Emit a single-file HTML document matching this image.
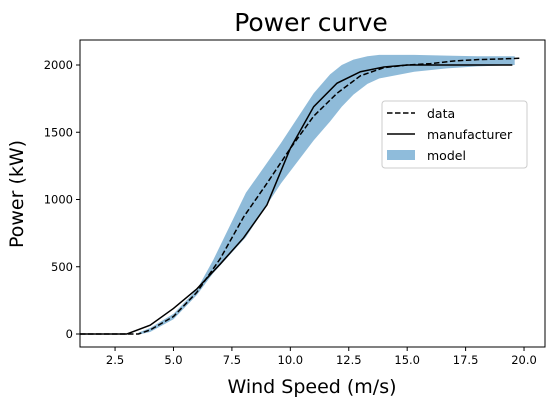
<!DOCTYPE html>
<html><head><meta charset="utf-8"><style>
body{margin:0;background:#fff;font-family:"DejaVu Sans","Liberation Sans",sans-serif}
</style></head><body>
<svg width="555" height="407" xmlns="http://www.w3.org/2000/svg" font-family="DejaVu Sans, Liberation Sans, sans-serif">
<text x="311" y="31" font-size="25" text-anchor="middle">Power curve</text>
<g id="plot"></g>
<text x="312" y="393" font-size="19" text-anchor="middle">Wind Speed (m/s)</text>
<text x="23" y="194" font-size="19" text-anchor="middle" transform="rotate(-90 23 194)">Power (kW)</text>
<g>
<rect x="382" y="101" width="145" height="67" rx="3" fill="#fff" fill-opacity="0.8" stroke="#ccc"/>
<line x1="387" y1="113" x2="415" y2="113" stroke="#000" stroke-width="1.5" stroke-dasharray="5.5,2.5"/>
<text x="427" y="118" font-size="12.5">data</text>
<line x1="387" y1="134" x2="415" y2="134" stroke="#000" stroke-width="1.5"/>
<text x="427" y="139" font-size="12.5">manufacturer</text>
<rect x="387" y="150" width="28" height="10" fill="#8fbcdb"/>
<text x="427" y="160" font-size="12.5">model</text>
</g>
</svg>
<script>
const mfrWs=[1,3,4,5,6,7,8,9,10,11,12,13,14,15,16,17,18,19.5];
const mfrP=[0,0,65,190,335,520,715,960,1380,1690,1865,1950,1985,2000,2000,2000,2000,2000];
const dataWs=[1,3.5,4,5,6,7,8,9,10,11,12,13,14,15,16,17,18,19,19.8];
const dataP=[0,0,30,130,310,560,870,1120,1380,1620,1790,1920,1980,2000,2010,2030,2040,2045,2050];
const bandWs=[3.5,4,5,6,6.7,8.1,9.6,11,11.7,12.2,12.7,13.3,13.8,15.3,16.7,18,19.6];
const bandUp=[10,45,150,330,550,1050,1420,1790,1930,2000,2040,2065,2075,2075,2070,2065,2065];
const bandLo=[-5,15,110,290,453,720,1120,1440,1580,1690,1780,1860,1900,1950,1975,1990,2000];
const xTicks=[2.5,5,7.5,10,12.5,15,17.5,20];
const xTickLabels=["2.5","5.0","7.5","10.0","12.5","15.0","17.5","20.0"];
const yTicks=[0,500,1000,1500,2000];
const yTickLabels=["0","500","1000","1500","2000"];
const L=80,R=545,T=40,B=347;
const X=v=>L+(v-1)*23.37;
const Y=v=>334-v*0.1345;
const g=document.getElementById('plot');
const NS='http://www.w3.org/2000/svg';
function mk(t,a){const e=document.createElementNS(NS,t);for(const k in a)e.setAttribute(k,a[k]);g.appendChild(e);return e;}
let d='M'+bandWs.map((w,i)=>X(w)+','+Y(bandUp[i])).join('L');
for(let i=bandWs.length-1;i>=0;i--)d+='L'+X(bandWs[i])+','+Y(bandLo[i]);
const band=mk('path',{d:d+'Z',fill:'#1f77b4','fill-opacity':0.5});


const m=mk('polyline',{points:mfrWs.map((w,i)=>X(w)+','+Y(mfrP[i])).join(' '),fill:'none',stroke:'#000','stroke-width':1.5});


const dl=mk('polyline',{points:dataWs.map((w,i)=>X(w)+','+Y(dataP[i])).join(' '),fill:'none',stroke:'#000','stroke-width':1.5,'stroke-dasharray':'5.5,2.5'});


const fr=mk('rect',{x:L,y:T,width:R-L,height:B-T,fill:'none',stroke:'#000','stroke-width':1});


xTicks.forEach((v,i)=>{
 const t=mk('line',{x1:X(v),x2:X(v),y1:B,y2:B+4,stroke:'#000'});
 
 
 const l=mk('text',{x:X(v),y:B+17,'font-size':11.5,'text-anchor':'middle'});l.textContent=xTickLabels[i];
 
 
});
yTicks.forEach((v,i)=>{
 const t=mk('line',{x1:L-4,x2:L,y1:Y(v),y2:Y(v),stroke:'#000'});
 
 
 const l=mk('text',{x:L-7,y:Y(v)+4,'font-size':11.5,'text-anchor':'end'});l.textContent=yTickLabels[i];
 
 
});
</script>
</body></html>
